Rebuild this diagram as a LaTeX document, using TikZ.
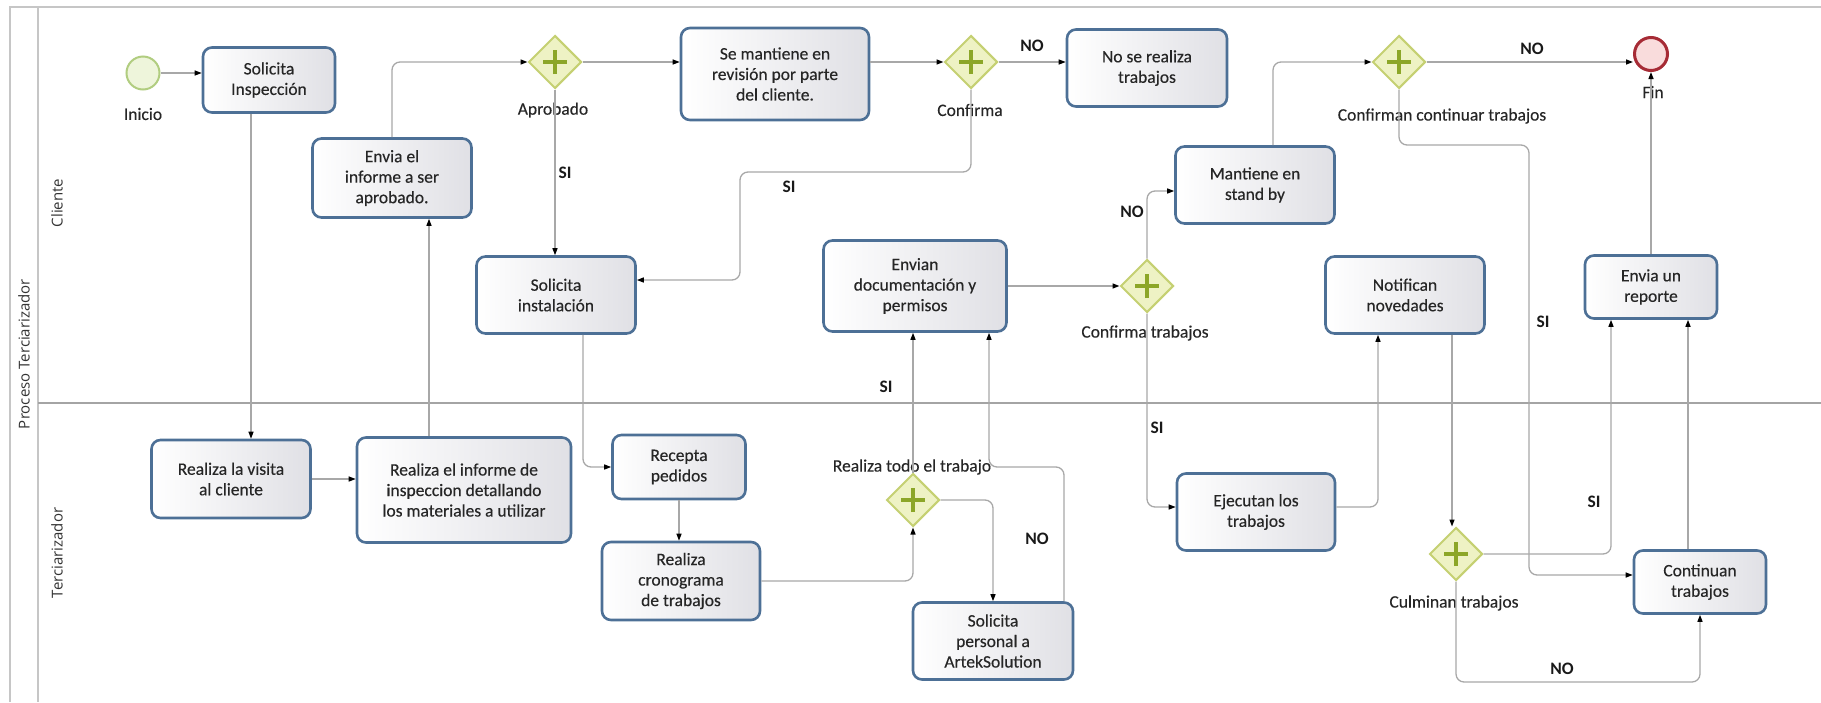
\documentclass[tikz,border=0pt]{standalone}
\usepackage{fontspec}
\setmainfont{Carlito}
\newfontfamily\tareafont[FakeBold=0.3]{Carlito}
\newfontfamily\carrilfont{Open Sans}
\usepackage{xcolor}
\usepackage{tikz}
\usetikzlibrary{shapes.geometric}
\usetikzlibrary{arrows.meta}
\usetikzlibrary{positioning}

\definecolor{bordeTarea}{HTML}{4D7096}
\definecolor{grisTarea}{HTML}{E0E0E5}
\definecolor{bordeComp}{HTML}{C5D072}
\definecolor{rellenoComp}{HTML}{EEF2C4}
\definecolor{verdeCruz}{HTML}{8CA628}
\definecolor{bordeInicio}{HTML}{B1CD80}
\definecolor{rellenoInicio}{HTML}{EEF5DB}
\definecolor{bordeFin}{HTML}{A62B35}
\definecolor{rellenoFin}{HTML}{F9DCDC}
\definecolor{grisFlujo}{HTML}{A8A8A8}
\definecolor{grisCarril}{HTML}{A4A4A4}

\begin{document}
\begin{tikzpicture}[
    x=1pt, y=-1pt,
    tarea/.style={rectangle, rounded corners=9pt, draw=bordeTarea, line width=2.6pt,
      left color=white, right color=grisTarea, align=center, text=black!85,
      font=\tareafont\fontsize{17.5}{20.5}\selectfont, inner sep=2pt},
    tam/.style 2 args={minimum width=#1pt, minimum height=#2pt},
    compuerta/.style={diamond, draw=bordeComp, fill=rellenoComp, line width=2pt,
      minimum width=53pt, minimum height=53pt, inner sep=0pt},
    eventoInicio/.style={circle, draw=bordeInicio, fill=rellenoInicio, line width=2pt,
      minimum size=33pt, inner sep=0pt},
    eventoFin/.style={circle, draw=bordeFin, fill=rellenoFin, line width=3pt,
      minimum size=33pt, inner sep=0pt},
    etiqueta/.style={text=black!85, font=\tareafont\fontsize{17.5}{20}\selectfont, inner sep=1pt},
    decision/.style={text=black!90, font=\bfseries\fontsize{17.5}{20}\selectfont, inner sep=1pt},
    carril/.style={rotate=90, text=black!80, font=\carrilfont\fontsize{15}{17}\selectfont},
    flujo/.style={draw=grisFlujo, line width=1.3pt, rounded corners=8pt,
      -{Triangle[length=7pt, width=5pt, color=black]}},
    cruz/.style={draw=verdeCruz, line width=4.5pt},
  ]
\useasboundingbox (0,0) rectangle (1821,702);

% pool y carriles
\draw[gray!45, line width=2pt] (10,702) -- (10,7) -- (1821,7);
\draw[gray!45, line width=1.5pt] (38,7) -- (38,702);
\draw[grisCarril, line width=2.4pt] (38,403) -- (1821,403);
\node[carril] (pool) at (24,354) {Proceso Terciarizador};
\node[carril] (laneCliente) at (57,203) {Cliente};
\node[carril] (laneTerc) at (57,553) {Terciarizador};

% eventos
\node[eventoInicio] (inicio) at (143,73) {};
\node[etiqueta] (inicioLbl) at (143,114) {Inicio};
\node[eventoFin] (fin) at (1651,54) {};
\node[etiqueta] (finLbl) at (1653,92) {Fin};

% carril Cliente
\node[tarea, tam={132}{65}] (solInsp) at (269,80) {Solicita\\Inspección};
\node[tarea, tam={159}{79}] (enviaInf) at (392,178) {Envia el\\informe a ser\\aprobado.};
\node[compuerta] (gwAprob) at (555,62) {};
\node[etiqueta] (gwAprobLbl) at (553,110) {Aprobado};
\node[tarea, tam={188}{92}] (seMant) at (775,74) {Se mantiene en\\revisión por parte\\del cliente.};
\node[compuerta] (gwConf) at (971,62) {};
\node[etiqueta] (gwConfLbl) at (970,110) {Confirma};
\node[tarea, tam={160}{77}] (noRealiza) at (1147,68) {No se realiza\\trabajos};
\node[tarea, tam={159}{77}] (mantiene) at (1255,185) {Mantiene en\\stand by};
\node[compuerta] (gwContin) at (1399,62) {};
\node[etiqueta] (gwContinLbl) at (1442,116) {Confirman continuar trabajos};
\node[tarea, tam={159}{77}] (solInst) at (556,295) {Solicita\\instalación};
\node[tarea, tam={183}{91}] (envian) at (915,286) {Envian\\documentación y\\permisos};
\node[compuerta] (gwConfTrab) at (1147,286) {};
\node[etiqueta] (gwConfTrabLbl) at (1145,333) {Confirma trabajos};
\node[tarea, tam={159}{77}] (notifican) at (1405,295) {Notifican\\novedades};
\node[tarea, tam={132}{63}] (reporte) at (1651,287) {Envia un\\reporte};

% carril Terciarizador
\node[tarea, tam={159}{78}] (visita) at (231,479) {Realiza la visita\\al cliente};
\node[tarea, tam={214}{105}] (informe) at (464,490) {Realiza el informe de\\inspeccion detallando\\los materiales a utilizar};
\node[tarea, tam={133}{64}] (recepta) at (679,467) {Recepta\\pedidos};
\node[tarea, tam={158}{78}] (crono) at (681,581) {Realiza\\cronograma\\de trabajos};
\node[compuerta] (gwTodo) at (913,500) {};
\node[etiqueta] (gwTodoLbl) at (912,467) {Realiza todo el trabajo};
\node[tarea, tam={160}{77}] (personal) at (993,641) {Solicita\\personal a\\ArtekSolution};
\node[tarea, tam={158}{77}] (ejecutan) at (1256,512) {Ejecutan los\\trabajos};
\node[compuerta] (gwCulm) at (1456,554) {};
\node[etiqueta] (gwCulmLbl) at (1454,603) {Culminan trabajos};
\node[tarea, tam={132}{63}] (continuan) at (1700,582) {Continuan\\trabajos};

\foreach \g in {gwAprob, gwConf, gwContin, gwConfTrab, gwTodo, gwCulm}
  \draw[cruz] ([xshift=-12pt]\g.center) -- ([xshift=12pt]\g.center)
              ([yshift=-12pt]\g.center) -- ([yshift=12pt]\g.center);

% codos
\coordinate (codoSI) at (740,172);
\coordinate (codoNO) at (989,467);
\coordinate (codoSI2) at (1529,145);
\coordinate (codoNO2) at (1580,682);

% flujos
\draw[flujo] (inicio.east) -- (inicio.east -| solInsp.west);
\draw[flujo] ([xshift=-18pt]solInsp.south) -- ([xshift=-18pt]solInsp.south |- visita.north);
\draw[flujo] (visita.east) -- (visita.east -| informe.west);
\draw[flujo] ([xshift=-35pt]informe.north) -- ([xshift=-35pt]informe.north |- enviaInf.south);
\draw[flujo] (enviaInf.north) |- (gwAprob.west);
\draw[flujo] (gwAprob.east) -- (gwAprob.east -| seMant.west);
\draw[flujo] (gwAprob.south) -- (gwAprob.south |- solInst.north);
\draw[flujo] (seMant.east |- gwConf.west) -- (gwConf.west);
\draw[flujo] (gwConf.east) -- (gwConf.east -| noRealiza.west);
\draw[flujo] (gwConf.south) |- (codoSI) |- ([yshift=15pt]solInst.east);
\draw[flujo] ([xshift=27pt]solInst.south) |- (recepta.west);
\draw[flujo] (recepta.south) -- (recepta.south |- crono.north);
\draw[flujo] (crono.east) -| (gwTodo.south);
\draw[flujo] (gwTodo.north) -- (gwTodo.north |- envian.south);
\draw[flujo] (gwTodo.east) -| (personal.north);
\draw[flujo] ([xshift=71pt]personal.north) |- (codoNO) -- ([xshift=74pt]envian.south);
\draw[flujo] (envian.east) -- (gwConfTrab.west);
\draw[flujo] (gwConfTrab.north) |- ([yshift=-6pt]mantiene.west);
\draw[flujo] (gwConfTrab.south) |- ([yshift=5pt]ejecutan.west);
\draw[flujo] ([yshift=5pt]ejecutan.east) -| ([xshift=-27pt]notifican.south);
\draw[flujo] ([xshift=18pt]mantiene.north) |- (gwContin.west);
\draw[flujo] (gwContin.east) -- (gwContin.east -| fin.west);
\draw[flujo] (gwContin.south) |- (codoSI2) |- ([yshift=7pt]continuan.west);
\draw[flujo] ([xshift=47pt]notifican.south) -- ([xshift=47pt]notifican.south |- gwCulm.north);
\draw[flujo] (gwCulm.east) -| ([xshift=-40pt]reporte.south);
\draw[flujo] (gwCulm.south) |- (codoNO2) -| (continuan.south);
\draw[flujo] ([xshift=-12pt]continuan.north) -- ([xshift=-12pt]continuan.north |- reporte.south);
\draw[flujo] (reporte.north) -- (fin.south);

% SI / NO
\node[decision] (siAprob) at (565,173) {SI};
\node[decision] (siConf) at (789,187) {SI};
\node[decision] (noConf) at (1032,46) {NO};
\node[decision] (noConfTrab) at (1132,212) {NO};
\node[decision] (noContin) at (1532,49) {NO};
\node[decision] (siContin) at (1543,322) {SI};
\node[decision] (siTodo) at (886,387) {SI};
\node[decision] (noTodo) at (1037,539) {NO};
\node[decision] (siConfTrab) at (1157,428) {SI};
\node[decision] (siCulm) at (1594,502) {SI};
\node[decision] (noCulm) at (1562,669) {NO};

\end{tikzpicture}
\end{document}
